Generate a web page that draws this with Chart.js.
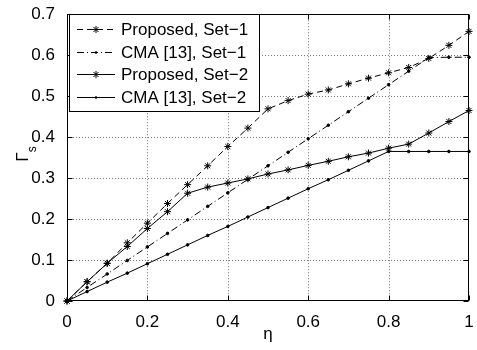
<!DOCTYPE html>
<html>
<head>
<meta charset="utf-8">
<script src="https://cdn.jsdelivr.net/npm/chart.js@4.4.1/dist/chart.umd.min.js"></script>
<style>
  html, body { margin: 0; padding: 0; background: #fff; }
  canvas { display: block; }
</style>
</head>
<body>
<canvas id="gammaChart" width="477" height="350"></canvas>
<script>
const eta = [0, 0.05, 0.1, 0.15, 0.2, 0.25, 0.3, 0.35, 0.4, 0.45, 0.5,
  0.55, 0.6, 0.65, 0.7, 0.75, 0.8, 0.85, 0.9, 0.95, 1];
const proposedSet1 = [0, 0.047, 0.092, 0.142, 0.19, 0.238, 0.284, 0.33, 0.377, 0.422, 0.469,
  0.489, 0.505, 0.515, 0.53, 0.544, 0.557, 0.57, 0.592, 0.624, 0.658];
const cmaSet1 = [0, 0.033, 0.066, 0.099, 0.132, 0.165, 0.198, 0.231, 0.264, 0.297, 0.33,
  0.363, 0.396, 0.429, 0.462, 0.495, 0.528, 0.561, 0.594, 0.595, 0.595];
const proposedSet2 = [0, 0.047, 0.092, 0.133, 0.177, 0.218, 0.263, 0.278, 0.288, 0.298, 0.31,
  0.32, 0.331, 0.341, 0.352, 0.361, 0.373, 0.383, 0.41, 0.438, 0.465];
const cmaSet2 = [0, 0.023, 0.046, 0.068, 0.091, 0.114, 0.137, 0.16, 0.182, 0.205, 0.228,
  0.251, 0.274, 0.296, 0.319, 0.342, 0.365, 0.365, 0.365, 0.365, 0.365];
const seriesLabels = ['Proposed, Set\u22121', 'CMA [13], Set\u22121', 'Proposed, Set\u22122', 'CMA [13], Set\u22122'];
const xTicks = [0, 0.2, 0.4, 0.6, 0.8, 1];
const yTicks = [0, 0.1, 0.2, 0.3, 0.4, 0.5, 0.6, 0.7];

const FONT = '"Liberation Sans", Arial, Helvetica, sans-serif';

function toPoints(ys) {
  return ys.map((y, i) => ({ x: eta[i], y: y }));
}

function series(label, ys, dash, marker) {
  const star = marker === 'star';
  return {
    label: label,
    data: toPoints(ys),
    borderColor: '#000',
    backgroundColor: '#000',
    borderWidth: 1,
    borderDash: dash,
    pointStyle: star ? 'star' : 'circle',
    pointRadius: star ? 3.5 : 1.3,
    pointBorderWidth: 1,
    pointBorderColor: '#000',
    pointBackgroundColor: '#000',
    tension: 0,
    clip: false
  };
}

function drawMarker(ctx, style, x, y) {
  ctx.save();
  ctx.setLineDash([]);
  ctx.lineWidth = 1;
  ctx.strokeStyle = '#000';
  ctx.fillStyle = '#000';
  if (style === 'star') {
    const r = 3.5;
    const d = r * Math.SQRT1_2;
    ctx.beginPath();
    ctx.moveTo(x - r, y); ctx.lineTo(x + r, y);
    ctx.moveTo(x, y - r); ctx.lineTo(x, y + r);
    ctx.moveTo(x - d, y - d); ctx.lineTo(x + d, y + d);
    ctx.moveTo(x - d, y + d); ctx.lineTo(x + d, y - d);
    ctx.stroke();
  } else {
    ctx.beginPath();
    ctx.arc(x, y, 1.3, 0, Math.PI * 2);
    ctx.fill();
  }
  ctx.restore();
}

// dotted grid (MATLAB style) under the data
const dottedGrid = {
  id: 'dottedGrid',
  beforeDatasetsDraw(chart) {
    const ctx = chart.ctx;
    const a = chart.chartArea;
    const sx = chart.scales.x, sy = chart.scales.y;
    ctx.save();
    ctx.strokeStyle = '#777';
    ctx.lineWidth = 1;
    ctx.setLineDash([1, 2]);
    ctx.beginPath();
    xTicks.slice(1, -1).forEach(v => {
      const px = Math.round(sx.getPixelForValue(v)) + 0.5;
      ctx.moveTo(px, a.top); ctx.lineTo(px, a.bottom);
    });
    yTicks.slice(1, -1).forEach(v => {
      const py = Math.round(sy.getPixelForValue(v)) + 0.5;
      ctx.moveTo(a.left, py); ctx.lineTo(a.right, py);
    });
    ctx.stroke();
    ctx.restore();
  }
};

// axes box, inward ticks, legend and the y label (Γ with subscript s)
const matlabFrame = {
  id: 'matlabFrame',
  afterDraw(chart) {
    const ctx = chart.ctx;
    const a = chart.chartArea;
    const sx = chart.scales.x, sy = chart.scales.y;
    const L = Math.round(a.left) + 0.5, R = Math.round(a.right) - 0.5;
    const T = Math.round(a.top) + 0.5, B = Math.round(a.bottom) - 0.5;

    ctx.save();
    ctx.strokeStyle = '#000';
    ctx.lineWidth = 1;
    ctx.setLineDash([]);
    ctx.strokeRect(L, T, R - L, B - T);

    ctx.beginPath();
    xTicks.forEach(v => {
      const px = Math.round(sx.getPixelForValue(v)) + 0.5;
      ctx.moveTo(px, B); ctx.lineTo(px, B - 5);
      ctx.moveTo(px, T); ctx.lineTo(px, T + 5);
    });
    yTicks.forEach(v => {
      const py = Math.round(sy.getPixelForValue(v)) + 0.5;
      ctx.moveTo(L, py); ctx.lineTo(L + 5, py);
      ctx.moveTo(R, py); ctx.lineTo(R - 5, py);
    });
    ctx.stroke();

    // legend
    const box = { x: 69.5, y: 14.5, w: 190, h: 97 };
    ctx.fillStyle = '#fff';
    ctx.fillRect(box.x, box.y, box.w, box.h);
    ctx.strokeRect(box.x, box.y, box.w, box.h);
    ctx.font = '17px ' + FONT;
    ctx.textBaseline = 'middle';
    chart.data.datasets.forEach((ds, i) => {
      const y = Math.round(29 + i * 22.7) + 0.5;
      ctx.save();
      ctx.setLineDash(ds.borderDash || []);
      ctx.beginPath();
      ctx.moveTo(77, y); ctx.lineTo(115, y);
      ctx.stroke();
      ctx.restore();
      drawMarker(ctx, ds.pointStyle, 96, y);
      ctx.fillStyle = '#000';
      ctx.fillText(ds.label, 121, y + 1);
    });

    // y axis label
    ctx.translate(0, 154);
    ctx.rotate(-Math.PI / 2);
    ctx.fillStyle = '#000';
    ctx.textBaseline = 'alphabetic';
    ctx.font = '17px ' + FONT;
    const w1 = ctx.measureText('\u0393').width;
    ctx.font = '12px ' + FONT;
    const w2 = ctx.measureText('s').width;
    const x0 = -(w1 + w2) / 2;
    ctx.font = '17px ' + FONT;
    ctx.fillText('\u0393', x0, 28);
    ctx.font = '12px ' + FONT;
    ctx.fillText('s', x0 + w1, 36);
    ctx.restore();
  }
};

new Chart(document.getElementById('gammaChart'), {
  type: 'line',
  data: {
    datasets: [
      series(seriesLabels[0], proposedSet1, [6, 4], 'star'),
      series(seriesLabels[1], cmaSet1, [7, 3, 1, 3], 'dot'),
      series(seriesLabels[2], proposedSet2, [], 'star'),
      series(seriesLabels[3], cmaSet2, [], 'dot')
    ]
  },
  options: {
    responsive: false,
    devicePixelRatio: 1,
    animation: false,
    layout: { padding: { top: 7, right: 8, left: 0, bottom: 0 } },
    plugins: {
      legend: { display: false },
      tooltip: { enabled: false }
    },
    scales: {
      x: {
        type: 'linear',
        min: 0,
        max: 1,
        afterFit: s => { s.height = 49; },
        afterBuildTicks: s => { s.ticks = xTicks.map(v => ({ value: v })); },
        ticks: {
          color: '#000',
          padding: 3,
          font: { family: FONT, size: 17 },
          callback: v => String(+v.toFixed(1))
        },
        grid: { display: false },
        border: { display: false },
        title: {
          display: true,
          text: '\u03b7',
          color: '#000',
          font: { family: FONT, size: 17 },
          padding: { top: 0, bottom: 5 }
        }
      },
      y: {
        min: 0,
        max: 0.7,
        afterFit: s => { s.width = 67; },
        afterBuildTicks: s => { s.ticks = yTicks.map(v => ({ value: v })); },
        ticks: {
          color: '#000',
          padding: 4,
          font: { family: FONT, size: 17 },
          callback: v => String(+v.toFixed(1))
        },
        grid: { display: false },
        border: { display: false }
      }
    }
  },
  plugins: [dottedGrid, matlabFrame]
});
</script>
</body>
</html>
